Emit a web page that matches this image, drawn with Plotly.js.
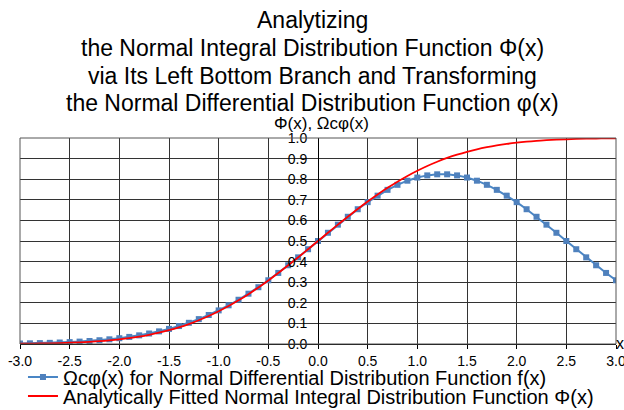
<!DOCTYPE html>
<html>
<head>
<meta charset="utf-8">
<script src="https://cdn.plot.ly/plotly-3.0.1.min.js"></script>
<style>html,body{margin:0;padding:0;background:#fff;}#chart{width:624px;height:410px;}</style>
</head>
<body>
<div id="chart"></div>
<script>
// x values (-3.0 .. 3.0, step 0.1)
const xValues = [-3.0,-2.9,-2.8,-2.7,-2.6,-2.5,-2.4,-2.3,-2.2,-2.1,-2.0,-1.9,-1.8,-1.7,-1.6,-1.5,-1.4,-1.3,-1.2,-1.1,-1.0,-0.9,-0.8,-0.7,-0.6,-0.5,-0.4,-0.3,-0.2,-0.1,0.0,0.1,0.2,0.3,0.4,0.5,0.6,0.7,0.8,0.9,1.0,1.1,1.2,1.3,1.4,1.5,1.6,1.7,1.8,1.9,2.0,2.1,2.2,2.3,2.4,2.5,2.6,2.7,2.8,2.9,3.0];

// Ωcφ(x) for Normal Differential Distribution Function f(x) (blue squares)
const omegaCPhi = [0.0025,0.0033,0.0043,0.0056,0.0072,0.0092,0.0116,0.0146,0.0183,0.0227,0.0281,0.0344,0.0420,0.0509,0.0613,0.0733,0.0871,0.1029,0.1208,0.1408,0.1631,0.1878,0.2148,0.2442,0.2757,0.3094,0.3450,0.3822,0.4207,0.4601,0.5000,0.5399,0.5793,0.6176,0.6542,0.6886,0.7201,0.7483,0.7727,0.7927,0.8081,0.8185,0.8237,0.8237,0.8185,0.8081,0.7927,0.7727,0.7483,0.7201,0.6886,0.6542,0.6176,0.5793,0.5399,0.5000,0.4601,0.4207,0.3822,0.3450,0.3094];

// Analytically fitted Normal Integral Distribution Function Φ(x) (red line)
const bigPhi = [0.0013,0.0019,0.0026,0.0035,0.0047,0.0062,0.0082,0.0107,0.0139,0.0179,0.0228,0.0287,0.0359,0.0446,0.0548,0.0668,0.0808,0.0968,0.1151,0.1357,0.1587,0.1841,0.2119,0.2420,0.2743,0.3085,0.3446,0.3821,0.4207,0.4602,0.5000,0.5398,0.5793,0.6179,0.6554,0.6915,0.7257,0.7580,0.7881,0.8159,0.8413,0.8643,0.8849,0.9032,0.9192,0.9332,0.9452,0.9554,0.9641,0.9713,0.9772,0.9821,0.9861,0.9893,0.9918,0.9938,0.9953,0.9965,0.9974,0.9981,0.9987];

// tick labels
const xTickVals = [-3.0,-2.5,-2.0,-1.5,-1.0,-0.5,0.0,0.5,1.0,1.5,2.0,2.5,3.0];
const xTickText = ["-3.0","-2.5","-2.0","-1.5","-1.0","-0.5","0.0","0.5","1.0","1.5","2.0","2.5","3.0"];
const yTickVals = [0.0,0.1,0.2,0.3,0.4,0.5,0.6,0.7,0.8,0.9,1.0];
const yTickText = ["0.0","0.1","0.2","0.3","0.4","0.5","0.6","0.7","0.8","0.9","1.0"];

const seriesNames = [
  "Ωcφ(x) for Normal Differential Distribution Function f(x)",
  "Analytically Fitted Normal Integral Distribution Function Φ(x)"
];
const titleLines = [
  "Analytizing",
  "the Normal Integral Distribution Function Φ(x)",
  "via Its Left Bottom Branch and Transforming",
  "the Normal Differential Distribution Function φ(x)"
];
const yAxisLabel = "Φ(x), Ωcφ(x)";
const xAxisLabel = "x";

const FONT = "Liberation Sans, Arial, sans-serif";

const traces = [
  {
    x: xValues, y: omegaCPhi, name: seriesNames[0], type: "scatter", mode: "lines+markers",
    line: {color: "#4a86c5", width: 2},
    marker: {symbol: "square", size: 6, color: "#4f81bd"},
    legend: "legend"
  },
  {
    x: xValues, y: bigPhi, name: seriesNames[1], type: "scatter", mode: "lines",
    line: {color: "#ff0000", width: 1.8, shape: "spline"},
    legend: "legend2"
  }
];

// title lines as centred annotations (pixel rows of the reference's line centres)
const titleRowsPx = [20, 48, 76, 103];
const plotTop = 138, plotBottom = 344;
const toPaperY = py => (plotBottom - py) / (plotBottom - plotTop);

const titleAnnotations = titleLines.map((t, i) => ({
  text: t, xref: "paper", yref: "paper", x: (312 - 20) / 596, y: toPaperY(titleRowsPx[i]),
  xanchor: "center", yanchor: "middle", showarrow: false,
  font: {family: FONT, size: 23, color: "#000000"}
}));

const layout = {
  width: 624, height: 410,
  margin: {l: 20, r: 8, t: 138, b: 66, autoexpand: false},
  paper_bgcolor: "#ffffff", plot_bgcolor: "#ffffff",
  font: {family: FONT, color: "#000000"},
  showlegend: true,
  xaxis: {
    range: [-3, 3], tickmode: "array", tickvals: xTickVals, ticktext: xTickText,
    showgrid: true, gridcolor: "#333333", gridwidth: 1,
    zeroline: false, showline: true, linecolor: "#000000", linewidth: 1,
    ticks: "outside", ticklen: 4, tickcolor: "#000000", ticklabelstandoff: 0,
    ticklabeloverflow: "allow",
    tickfont: {family: FONT, size: 14, color: "#000000"},
    fixedrange: true
  },
  yaxis: {
    range: [0, 1], tickmode: "array", tickvals: yTickVals, ticktext: yTickText,
    anchor: "free", position: 0.5, side: "left",
    showgrid: true, gridcolor: "#333333", gridwidth: 1,
    zeroline: false, showline: true, linecolor: "#000000", linewidth: 1,
    ticks: "", ticklabelstandoff: 8, ticklabeloverflow: "allow",
    tickfont: {family: FONT, size: 14, color: "#000000"},
    fixedrange: true
  },
  shapes: [
    {type: "rect", xref: "paper", yref: "paper", x0: 0, x1: 1, y0: 0, y1: 1,
     line: {color: "#555555", width: 1}, fillcolor: "rgba(0,0,0,0)", layer: "above"}
  ],
  annotations: titleAnnotations.concat([
    {text: yAxisLabel, xref: "x", yref: "paper", x: 0.04, y: toPaperY(123), xanchor: "center", yanchor: "middle",
     showarrow: false, font: {family: FONT, size: 17, color: "#000000"}},
    {text: xAxisLabel, xref: "paper", yref: "paper", x: 1.0, y: toPaperY(343), xanchor: "left", yanchor: "middle",
     xshift: -2, showarrow: false, font: {family: FONT, size: 16, color: "#000000"}}
  ]),
  legend: {
    x: 0.005, y: toPaperY(377), xanchor: "left", yanchor: "middle",
    bgcolor: "rgba(0,0,0,0)", borderwidth: 0,
    font: {family: FONT, size: 20, color: "#000000"}
  },
  legend2: {
    x: 0.005, y: toPaperY(396), xanchor: "left", yanchor: "middle",
    bgcolor: "rgba(0,0,0,0)", borderwidth: 0,
    font: {family: FONT, size: 20, color: "#000000"}
  }
};

Plotly.newPlot("chart", traces, layout, {displayModeBar: false, staticPlot: true});
</script>
</body>
</html>
